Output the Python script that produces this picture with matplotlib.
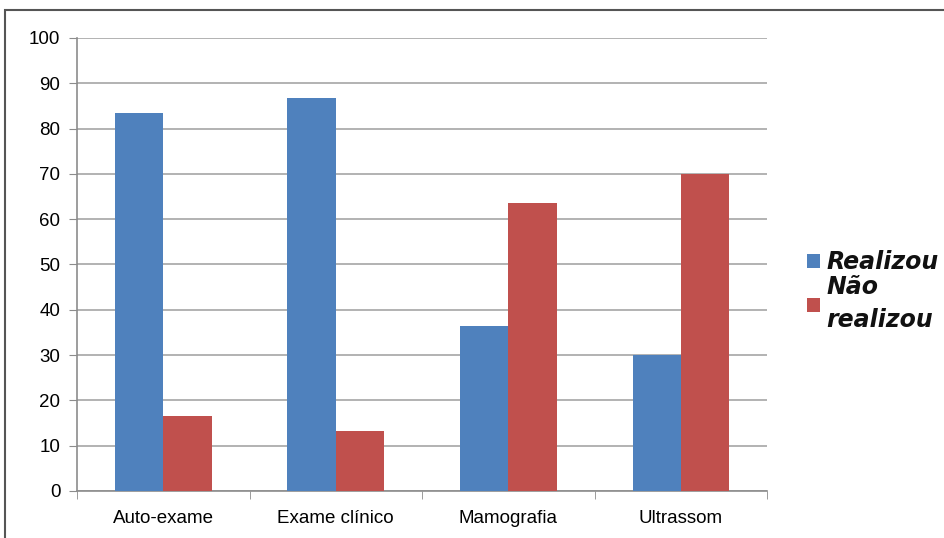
import numpy as np
import matplotlib.pyplot as plt
from matplotlib.patches import Rectangle

# Exames realizados (%)
categorias = ["Auto-exame", "Exame clínico", "Mamografia", "Ultrassom"]
realizou = [83.5, 86.7, 36.5, 30.0]
nao_realizou = [16.5, 13.3, 63.5, 70.0]
series = ["Realizou", "Não\nrealizou"]

cor_azul = "#4f81bd"
cor_vermelho = "#c0504d"
fonte = ["Liberation Sans Narrow", "Liberation Sans", "DejaVu Sans"]

fig = plt.figure(figsize=(9.44, 5.38), dpi=100)
ax = fig.add_axes([0.0816, 0.0874, 0.731, 0.842])

x = np.arange(len(categorias))
largura = 0.28
ax.bar(x - largura / 2, realizou, largura, color=cor_azul, label=series[0], zorder=3)
ax.bar(x + largura / 2, nao_realizou, largura, color=cor_vermelho, label=series[1], zorder=3)

ax.set_xlim(-0.5, len(categorias) - 0.5)
ax.set_ylim(0, 100)
ax.set_yticks(np.arange(0, 101, 10))
ax.yaxis.grid(True, color="#a6a6a6", linewidth=1.2, zorder=0)

# categorias no centro, marcas entre elas
ax.set_xticks(x)
ax.set_xticklabels(categorias, fontsize=13.5, family=fonte)
ax.set_xticks(np.arange(-0.5, len(categorias)), minor=True)
ax.tick_params(axis="x", which="major", length=0, pad=14)
ax.tick_params(axis="x", which="minor", length=6, color="#8c8c8c")
ax.tick_params(axis="y", length=6, color="#8c8c8c", labelsize=13.5, pad=6)
for lbl in ax.get_yticklabels():
    lbl.set_family(fonte)

for lado in ["top", "right"]:
    ax.spines[lado].set_visible(False)
for lado in ["left", "bottom"]:
    ax.spines[lado].set_color("#8c8c8c")
    ax.spines[lado].set_linewidth(1.2)

leg = fig.legend(loc="upper left", bbox_to_anchor=(0.8425, 0.557), frameon=False,
                 handlelength=0.55, handleheight=0.55, handletextpad=0.25,
                 labelspacing=0.05, borderpad=0,
                 prop={"size": 17, "weight": "bold", "style": "italic"})
for t in leg.get_texts():
    t.set_color("#111111")
leg.get_texts()[1].set_linespacing(1.45)

# moldura do gráfico
fig.patches.append(Rectangle((5 / 944, -0.1), 1.2, 1 - 10 / 538 + 0.1,
                             transform=fig.transFigure, fill=False,
                             edgecolor="#555555", linewidth=1.5))

fig.savefig("out.png", dpi=100)
